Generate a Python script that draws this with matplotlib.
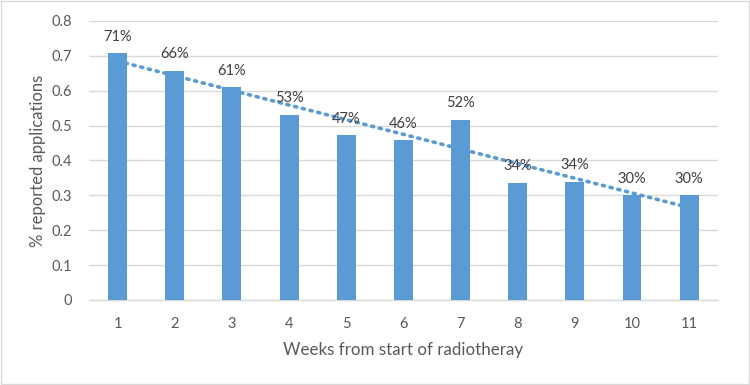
import matplotlib
matplotlib.use("Agg")
import matplotlib.pyplot as plt
import numpy as np
from matplotlib.patches import Rectangle

weeks = [1, 2, 3, 4, 5, 6, 7, 8, 9, 10, 11]
values = [0.707, 0.657, 0.610, 0.530, 0.472, 0.458, 0.517, 0.336, 0.338, 0.300, 0.300]
labels = ["71%", "66%", "61%", "53%", "47%", "46%", "52%", "34%", "34%", "30%", "30%"]
yticks = [0, 0.1, 0.2, 0.3, 0.4, 0.5, 0.6, 0.7, 0.8]
ytick_labels = ["0", "0.1", "0.2", "0.3", "0.4", "0.5", "0.6", "0.7", "0.8"]

plt.rcParams['font.family'] = ['Lato', 'DejaVu Sans']
blue = "#5B9BD5"
txt = "#595959"

fig = plt.figure(figsize=(7.5, 3.85), dpi=100)
ax = fig.add_axes([0.1187, 0.2208, 0.8383, 0.7247])

x = np.array(weeks)
ax.bar(x, values, width=0.33, color=blue, zorder=3)

coef = np.polyfit(x, values, 1)
ax.plot(x, np.polyval(coef, x), linestyle=(0, (0.6, 1.6)), color=blue,
        linewidth=2.6, dash_capstyle='round', zorder=2)

for xi, v, lab in zip(x, values, labels):
    ax.annotate(lab, (xi, v), xytext=(0, 12), textcoords='offset points',
                ha='center', va='center', fontsize=10.5, color="#404040", zorder=4)

ax.set_xlim(0.5, 11.5)
ax.set_ylim(0, 0.8)
ax.set_yticks(yticks)
ax.set_yticklabels(ytick_labels)
ax.set_xticks(x)
ax.set_xticklabels([str(w) for w in weeks])
ax.tick_params(axis='both', length=0, labelsize=10.5, colors=txt)
ax.tick_params(axis='y', pad=12)
ax.tick_params(axis='x', pad=12)
ax.grid(axis='y', color="#D9D9D9", linewidth=1, zorder=0)
for s in ['top', 'right', 'left']:
    ax.spines[s].set_visible(False)
ax.spines['bottom'].set_color("#D9D9D9")
ax.spines['bottom'].set_linewidth(1)
ax.set_axisbelow(True)

ax.set_xlabel("Weeks from start of radiotheray", fontsize=12.2, color=txt, labelpad=8)
ax.set_ylabel("% reported applications", fontsize=12, color=txt, labelpad=4)

fig.patches.append(Rectangle((0.001, 0.002), 0.997, 0.995, transform=fig.transFigure,
                             fill=False, edgecolor="#D9D9D9", linewidth=1))

fig.savefig("out.png", dpi=100)
